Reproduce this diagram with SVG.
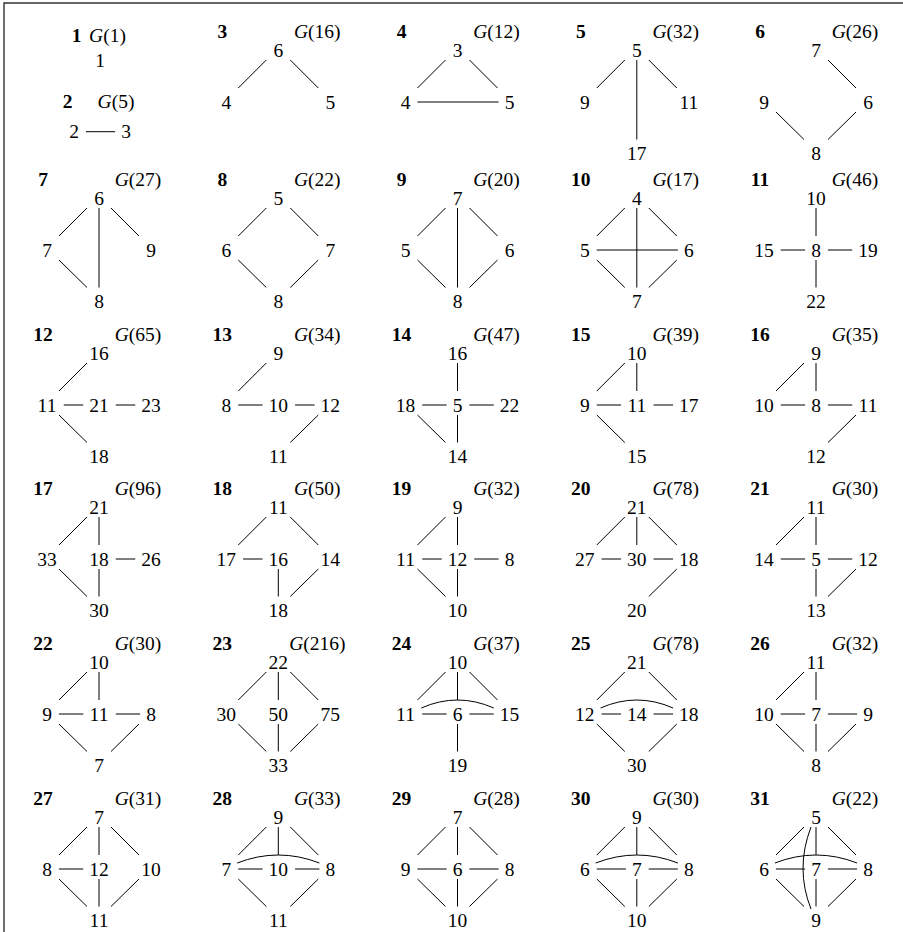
<svg xmlns="http://www.w3.org/2000/svg" width="903" height="932" viewBox="0 0 903 932">
<style>
text{font-family:"Liberation Serif","Times New Roman",serif;font-size:19.5px;text-anchor:middle;fill:#000}
.b{font-weight:bold}
.i{font-style:italic}
line,path{stroke:#000;stroke-width:1;fill:none}
.frame{stroke:#333;stroke-width:1.4}
</style>
<rect width="903" height="932" fill="#fff"/>
<g id="frame"><path class="frame" d="M4,932 V3 H903"/></g>

<g id="cell1-2">
<text class="b" x="76.5" y="41.6">1</text>
<text x="107.5" y="41.6"><tspan class="i">G</tspan>(1)</text>
<g id="g1-1"><text x="100" y="66.6">1</text></g>
<text class="b" x="67.5" y="108.3">2</text>
<text x="116" y="108.3"><tspan class="i">G</tspan>(5)</text>
<g class="edges"><line x1="85.9" y1="131.7" x2="115.1" y2="131.7"/></g>
<g id="g2-2"><text x="74" y="138.3">2</text></g>
<g id="g2-3"><text x="126" y="138.3">3</text></g>
</g>

<g id="graph3" transform="translate(278.3,50)">
<text class="b" x="-56" y="-12.4">3</text><text x="39" y="-12.4"><tspan class="i">G</tspan>(16)</text>
<g class="edges"><line x1="-12" y1="10" x2="-40" y2="38"/><line x1="12" y1="10" x2="40" y2="38"/></g>
<g id="g3-6"><text x="0" y="6.6">6</text></g><g id="g3-4"><text x="-52" y="58.6">4</text></g><g id="g3-5"><text x="52" y="58.6">5</text></g>
</g>

<g id="graph4" transform="translate(457.5,50)">
<text class="b" x="-56" y="-12.4">4</text><text x="39" y="-12.4"><tspan class="i">G</tspan>(12)</text>
<g class="edges"><line x1="-12" y1="10" x2="-40" y2="38"/><line x1="12" y1="10" x2="40" y2="38"/><line x1="-40.1" y1="52" x2="41.1" y2="52"/></g>
<g id="g4-3"><text x="0" y="6.6">3</text></g><g id="g4-4"><text x="-52" y="58.6">4</text></g><g id="g4-5"><text x="52" y="58.6">5</text></g>
</g>

<g id="graph5" transform="translate(636.8,50)">
<text class="b" x="-56" y="-12.4">5</text><text x="39" y="-12.4"><tspan class="i">G</tspan>(32)</text>
<g class="edges"><line x1="-12" y1="10" x2="-40" y2="38"/><line x1="12" y1="10" x2="40" y2="38"/><line x1="0" y1="10" x2="0" y2="89.5"/></g>
<g id="g5-5"><text x="0" y="6.6">5</text></g><g id="g5-9"><text x="-52" y="58.6">9</text></g><g id="g5-11"><text x="52" y="58.6">11</text></g><g id="g5-17"><text x="0" y="110.1">17</text></g>
</g>

<g id="graph6" transform="translate(816,50)">
<text class="b" x="-56" y="-12.4">6</text><text x="39" y="-12.4"><tspan class="i">G</tspan>(26)</text>
<g class="edges"><line x1="12" y1="10" x2="40" y2="38"/><line x1="-40" y1="62" x2="-12" y2="89.5"/><line x1="40" y1="62" x2="12" y2="89.5"/></g>
<g id="g6-7"><text x="0" y="6.6">7</text></g><g id="g6-9"><text x="-52" y="58.6">9</text></g><g id="g6-6"><text x="52" y="58.6">6</text></g><g id="g6-8"><text x="0" y="110.1">8</text></g>
</g>

<g id="graph7" transform="translate(99,198)">
<text class="b" x="-56" y="-12.4">7</text><text x="39" y="-12.4"><tspan class="i">G</tspan>(27)</text>
<g class="edges"><line x1="-12" y1="10" x2="-40" y2="38"/><line x1="12" y1="10" x2="40" y2="38"/><line x1="0" y1="10" x2="0" y2="89.5"/><line x1="-40" y1="62" x2="-12" y2="89.5"/></g>
<g id="g7-6"><text x="0" y="6.6">6</text></g><g id="g7-7"><text x="-52" y="58.6">7</text></g><g id="g7-9"><text x="52" y="58.6">9</text></g><g id="g7-8"><text x="0" y="110.1">8</text></g>
</g>

<g id="graph8" transform="translate(278.3,198)">
<text class="b" x="-56" y="-12.4">8</text><text x="39" y="-12.4"><tspan class="i">G</tspan>(22)</text>
<g class="edges"><line x1="-12" y1="10" x2="-40" y2="38"/><line x1="12" y1="10" x2="40" y2="38"/><line x1="-40" y1="62" x2="-12" y2="89.5"/><line x1="40" y1="62" x2="12" y2="89.5"/></g>
<g id="g8-5"><text x="0" y="6.6">5</text></g><g id="g8-6"><text x="-52" y="58.6">6</text></g><g id="g8-7"><text x="52" y="58.6">7</text></g><g id="g8-8"><text x="0" y="110.1">8</text></g>
</g>

<g id="graph9" transform="translate(457.5,198)">
<text class="b" x="-56" y="-12.4">9</text><text x="39" y="-12.4"><tspan class="i">G</tspan>(20)</text>
<g class="edges"><line x1="-12" y1="10" x2="-40" y2="38"/><line x1="12" y1="10" x2="40" y2="38"/><line x1="-40" y1="62" x2="-12" y2="89.5"/><line x1="40" y1="62" x2="12" y2="89.5"/><line x1="0" y1="10" x2="0" y2="89.5"/></g>
<g id="g9-7"><text x="0" y="6.6">7</text></g><g id="g9-5"><text x="-52" y="58.6">5</text></g><g id="g9-6"><text x="52" y="58.6">6</text></g><g id="g9-8"><text x="0" y="110.1">8</text></g>
</g>

<g id="graph10" transform="translate(636.8,198)">
<text class="b" x="-56" y="-12.4">10</text><text x="39" y="-12.4"><tspan class="i">G</tspan>(17)</text>
<g class="edges"><line x1="-12" y1="10" x2="-40" y2="38"/><line x1="12" y1="10" x2="40" y2="38"/><line x1="-40" y1="62" x2="-12" y2="89.5"/><line x1="40" y1="62" x2="12" y2="89.5"/><line x1="0" y1="10" x2="0" y2="89.5"/><line x1="-40.1" y1="52" x2="41.1" y2="52"/></g>
<g id="g10-4"><text x="0" y="6.6">4</text></g><g id="g10-5"><text x="-52" y="58.6">5</text></g><g id="g10-6"><text x="52" y="58.6">6</text></g><g id="g10-7"><text x="0" y="110.1">7</text></g>
</g>

<g id="graph11" transform="translate(816,198)">
<text class="b" x="-56" y="-12.4">11</text><text x="39" y="-12.4"><tspan class="i">G</tspan>(46)</text>
<g class="edges"><line x1="0" y1="10" x2="0" y2="38"/><line x1="-35.25" y1="52" x2="-10.9" y2="52"/><line x1="11.9" y1="52" x2="36.25" y2="52"/><line x1="0" y1="62" x2="0" y2="89.5"/></g>
<g id="g11-10"><text x="0" y="6.6">10</text></g><g id="g11-15"><text x="-52" y="58.6">15</text></g><g id="g11-8"><text x="0" y="58.6">8</text></g><g id="g11-19"><text x="52" y="58.6">19</text></g><g id="g11-22"><text x="0" y="110.1">22</text></g>
</g>

<g id="graph12" transform="translate(99,353)">
<text class="b" x="-56" y="-12.4">12</text><text x="39" y="-12.4"><tspan class="i">G</tspan>(65)</text>
<g class="edges"><line x1="-12" y1="10" x2="-40" y2="38"/><line x1="-35.25" y1="52" x2="-15.75" y2="52"/><line x1="16.75" y1="52" x2="36.25" y2="52"/><line x1="-40" y1="62" x2="-12" y2="89.5"/></g>
<g id="g12-16"><text x="0" y="6.6">16</text></g><g id="g12-11"><text x="-52" y="58.6">11</text></g><g id="g12-21"><text x="0" y="58.6">21</text></g><g id="g12-23"><text x="52" y="58.6">23</text></g><g id="g12-18"><text x="0" y="110.1">18</text></g>
</g>

<g id="graph13" transform="translate(278.3,353)">
<text class="b" x="-56" y="-12.4">13</text><text x="39" y="-12.4"><tspan class="i">G</tspan>(34)</text>
<g class="edges"><line x1="-12" y1="10" x2="-40" y2="38"/><line x1="-40.1" y1="52" x2="-15.75" y2="52"/><line x1="16.75" y1="52" x2="36.25" y2="52"/><line x1="40" y1="62" x2="12" y2="89.5"/></g>
<g id="g13-9"><text x="0" y="6.6">9</text></g><g id="g13-8"><text x="-52" y="58.6">8</text></g><g id="g13-10"><text x="0" y="58.6">10</text></g><g id="g13-12"><text x="52" y="58.6">12</text></g><g id="g13-11"><text x="0" y="110.1">11</text></g>
</g>

<g id="graph14" transform="translate(457.5,353)">
<text class="b" x="-56" y="-12.4">14</text><text x="39" y="-12.4"><tspan class="i">G</tspan>(47)</text>
<g class="edges"><line x1="0" y1="10" x2="0" y2="38"/><line x1="-35.25" y1="52" x2="-10.9" y2="52"/><line x1="11.9" y1="52" x2="36.25" y2="52"/><line x1="-40" y1="62" x2="-12" y2="89.5"/><line x1="0" y1="62" x2="0" y2="89.5"/></g>
<g id="g14-16"><text x="0" y="6.6">16</text></g><g id="g14-18"><text x="-52" y="58.6">18</text></g><g id="g14-5"><text x="0" y="58.6">5</text></g><g id="g14-22"><text x="52" y="58.6">22</text></g><g id="g14-14"><text x="0" y="110.1">14</text></g>
</g>

<g id="graph15" transform="translate(636.8,353)">
<text class="b" x="-56" y="-12.4">15</text><text x="39" y="-12.4"><tspan class="i">G</tspan>(39)</text>
<g class="edges"><line x1="-12" y1="10" x2="-40" y2="38"/><line x1="0" y1="10" x2="0" y2="38"/><line x1="-40.1" y1="52" x2="-15.75" y2="52"/><line x1="16.75" y1="52" x2="36.25" y2="52"/><line x1="-40" y1="62" x2="-12" y2="89.5"/></g>
<g id="g15-10"><text x="0" y="6.6">10</text></g><g id="g15-9"><text x="-52" y="58.6">9</text></g><g id="g15-11"><text x="0" y="58.6">11</text></g><g id="g15-17"><text x="52" y="58.6">17</text></g><g id="g15-15"><text x="0" y="110.1">15</text></g>
</g>

<g id="graph16" transform="translate(816,353)">
<text class="b" x="-56" y="-12.4">16</text><text x="39" y="-12.4"><tspan class="i">G</tspan>(35)</text>
<g class="edges"><line x1="-12" y1="10" x2="-40" y2="38"/><line x1="0" y1="10" x2="0" y2="38"/><line x1="-35.25" y1="52" x2="-10.9" y2="52"/><line x1="11.9" y1="52" x2="36.25" y2="52"/><line x1="40" y1="62" x2="12" y2="89.5"/></g>
<g id="g16-9"><text x="0" y="6.6">9</text></g><g id="g16-10"><text x="-52" y="58.6">10</text></g><g id="g16-8"><text x="0" y="58.6">8</text></g><g id="g16-11"><text x="52" y="58.6">11</text></g><g id="g16-12"><text x="0" y="110.1">12</text></g>
</g>

<g id="graph17" transform="translate(99,507)">
<text class="b" x="-56" y="-12.4">17</text><text x="39" y="-12.4"><tspan class="i">G</tspan>(96)</text>
<g class="edges"><line x1="-12" y1="10" x2="-40" y2="38"/><line x1="0" y1="10" x2="0" y2="38"/><line x1="16.75" y1="52" x2="36.25" y2="52"/><line x1="-40" y1="62" x2="-12" y2="89.5"/><line x1="0" y1="62" x2="0" y2="89.5"/></g>
<g id="g17-21"><text x="0" y="6.6">21</text></g><g id="g17-33"><text x="-52" y="58.6">33</text></g><g id="g17-18"><text x="0" y="58.6">18</text></g><g id="g17-26"><text x="52" y="58.6">26</text></g><g id="g17-30"><text x="0" y="110.1">30</text></g>
</g>

<g id="graph18" transform="translate(278.3,507)">
<text class="b" x="-56" y="-12.4">18</text><text x="39" y="-12.4"><tspan class="i">G</tspan>(50)</text>
<g class="edges"><line x1="-12" y1="10" x2="-40" y2="38"/><line x1="12" y1="10" x2="40" y2="38"/><line x1="-35.25" y1="52" x2="-15.75" y2="52"/><line x1="0" y1="62" x2="0" y2="89.5"/><line x1="40" y1="62" x2="12" y2="89.5"/></g>
<g id="g18-11"><text x="0" y="6.6">11</text></g><g id="g18-17"><text x="-52" y="58.6">17</text></g><g id="g18-16"><text x="0" y="58.6">16</text></g><g id="g18-14"><text x="52" y="58.6">14</text></g><g id="g18-18"><text x="0" y="110.1">18</text></g>
</g>

<g id="graph19" transform="translate(457.5,507)">
<text class="b" x="-56" y="-12.4">19</text><text x="39" y="-12.4"><tspan class="i">G</tspan>(32)</text>
<g class="edges"><line x1="-12" y1="10" x2="-40" y2="38"/><line x1="0" y1="10" x2="0" y2="38"/><line x1="-35.25" y1="52" x2="-15.75" y2="52"/><line x1="16.75" y1="52" x2="41.1" y2="52"/><line x1="-40" y1="62" x2="-12" y2="89.5"/><line x1="0" y1="62" x2="0" y2="89.5"/></g>
<g id="g19-9"><text x="0" y="6.6">9</text></g><g id="g19-11"><text x="-52" y="58.6">11</text></g><g id="g19-12"><text x="0" y="58.6">12</text></g><g id="g19-8"><text x="52" y="58.6">8</text></g><g id="g19-10"><text x="0" y="110.1">10</text></g>
</g>

<g id="graph20" transform="translate(636.8,507)">
<text class="b" x="-56" y="-12.4">20</text><text x="39" y="-12.4"><tspan class="i">G</tspan>(78)</text>
<g class="edges"><line x1="-12" y1="10" x2="-40" y2="38"/><line x1="0" y1="10" x2="0" y2="38"/><line x1="12" y1="10" x2="40" y2="38"/><line x1="-35.25" y1="52" x2="-15.75" y2="52"/><line x1="16.75" y1="52" x2="36.25" y2="52"/><line x1="40" y1="62" x2="12" y2="89.5"/></g>
<g id="g20-21"><text x="0" y="6.6">21</text></g><g id="g20-27"><text x="-52" y="58.6">27</text></g><g id="g20-30"><text x="0" y="58.6">30</text></g><g id="g20-18"><text x="52" y="58.6">18</text></g><g id="g20-20"><text x="0" y="110.1">20</text></g>
</g>

<g id="graph21" transform="translate(816,507)">
<text class="b" x="-56" y="-12.4">21</text><text x="39" y="-12.4"><tspan class="i">G</tspan>(30)</text>
<g class="edges"><line x1="-12" y1="10" x2="-40" y2="38"/><line x1="0" y1="10" x2="0" y2="38"/><line x1="-35.25" y1="52" x2="-10.9" y2="52"/><line x1="11.9" y1="52" x2="36.25" y2="52"/><line x1="0" y1="62" x2="0" y2="89.5"/><line x1="40" y1="62" x2="12" y2="89.5"/></g>
<g id="g21-11"><text x="0" y="6.6">11</text></g><g id="g21-14"><text x="-52" y="58.6">14</text></g><g id="g21-5"><text x="0" y="58.6">5</text></g><g id="g21-12"><text x="52" y="58.6">12</text></g><g id="g21-13"><text x="0" y="110.1">13</text></g>
</g>

<g id="graph22" transform="translate(99,662)">
<text class="b" x="-56" y="-12.4">22</text><text x="39" y="-12.4"><tspan class="i">G</tspan>(30)</text>
<g class="edges"><line x1="-12" y1="10" x2="-40" y2="38"/><line x1="0" y1="10" x2="0" y2="38"/><line x1="-40.1" y1="52" x2="-15.75" y2="52"/><line x1="16.75" y1="52" x2="41.1" y2="52"/><line x1="-40" y1="62" x2="-12" y2="89.5"/><line x1="40" y1="62" x2="12" y2="89.5"/></g>
<g id="g22-10"><text x="0" y="6.6">10</text></g><g id="g22-9"><text x="-52" y="58.6">9</text></g><g id="g22-11"><text x="0" y="58.6">11</text></g><g id="g22-8"><text x="52" y="58.6">8</text></g><g id="g22-7"><text x="0" y="110.1">7</text></g>
</g>

<g id="graph23" transform="translate(278.3,662)">
<text class="b" x="-56" y="-12.4">23</text><text x="39" y="-12.4"><tspan class="i">G</tspan>(216)</text>
<g class="edges"><line x1="-12" y1="10" x2="-40" y2="38"/><line x1="0" y1="10" x2="0" y2="38"/><line x1="12" y1="10" x2="40" y2="38"/><line x1="-40" y1="62" x2="-12" y2="89.5"/><line x1="0" y1="62" x2="0" y2="89.5"/><line x1="40" y1="62" x2="12" y2="89.5"/></g>
<g id="g23-22"><text x="0" y="6.6">22</text></g><g id="g23-30"><text x="-52" y="58.6">30</text></g><g id="g23-50"><text x="0" y="58.6">50</text></g><g id="g23-75"><text x="52" y="58.6">75</text></g><g id="g23-33"><text x="0" y="110.1">33</text></g>
</g>

<g id="graph24" transform="translate(457.5,662)">
<text class="b" x="-56" y="-12.4">24</text><text x="39" y="-12.4"><tspan class="i">G</tspan>(37)</text>
<g class="edges"><line x1="-12" y1="10" x2="-40" y2="38"/><line x1="0" y1="10" x2="0" y2="38"/><line x1="12" y1="10" x2="40" y2="38"/><path d="M-36.25,46 Q0,30 36.25,46"/><line x1="-35.25" y1="52" x2="-10.9" y2="52"/><line x1="11.9" y1="52" x2="36.25" y2="52"/><line x1="0" y1="62" x2="0" y2="89.5"/></g>
<g id="g24-10"><text x="0" y="6.6">10</text></g><g id="g24-11"><text x="-52" y="58.6">11</text></g><g id="g24-6"><text x="0" y="58.6">6</text></g><g id="g24-15"><text x="52" y="58.6">15</text></g><g id="g24-19"><text x="0" y="110.1">19</text></g>
</g>

<g id="graph25" transform="translate(636.8,662)">
<text class="b" x="-56" y="-12.4">25</text><text x="39" y="-12.4"><tspan class="i">G</tspan>(78)</text>
<g class="edges"><line x1="-12" y1="10" x2="-40" y2="38"/><line x1="12" y1="10" x2="40" y2="38"/><path d="M-36.25,46 Q0,30 36.25,46"/><line x1="-35.25" y1="52" x2="-15.75" y2="52"/><line x1="16.75" y1="52" x2="36.25" y2="52"/><line x1="-40" y1="62" x2="-12" y2="89.5"/><line x1="40" y1="62" x2="12" y2="89.5"/></g>
<g id="g25-21"><text x="0" y="6.6">21</text></g><g id="g25-12"><text x="-52" y="58.6">12</text></g><g id="g25-14"><text x="0" y="58.6">14</text></g><g id="g25-18"><text x="52" y="58.6">18</text></g><g id="g25-30"><text x="0" y="110.1">30</text></g>
</g>

<g id="graph26" transform="translate(816,662)">
<text class="b" x="-56" y="-12.4">26</text><text x="39" y="-12.4"><tspan class="i">G</tspan>(32)</text>
<g class="edges"><line x1="-12" y1="10" x2="-40" y2="38"/><line x1="0" y1="10" x2="0" y2="38"/><line x1="-35.25" y1="52" x2="-10.9" y2="52"/><line x1="11.9" y1="52" x2="41.1" y2="52"/><line x1="-40" y1="62" x2="-12" y2="89.5"/><line x1="0" y1="62" x2="0" y2="89.5"/><line x1="40" y1="62" x2="12" y2="89.5"/></g>
<g id="g26-11"><text x="0" y="6.6">11</text></g><g id="g26-10"><text x="-52" y="58.6">10</text></g><g id="g26-7"><text x="0" y="58.6">7</text></g><g id="g26-9"><text x="52" y="58.6">9</text></g><g id="g26-8"><text x="0" y="110.1">8</text></g>
</g>

<g id="graph27" transform="translate(99,817)">
<text class="b" x="-56" y="-12.4">27</text><text x="39" y="-12.4"><tspan class="i">G</tspan>(31)</text>
<g class="edges"><line x1="-12" y1="10" x2="-40" y2="38"/><line x1="0" y1="10" x2="0" y2="38"/><line x1="12" y1="10" x2="40" y2="38"/><line x1="-40.1" y1="52" x2="-15.75" y2="52"/><line x1="-40" y1="62" x2="-12" y2="89.5"/><line x1="0" y1="62" x2="0" y2="89.5"/><line x1="40" y1="62" x2="12" y2="89.5"/></g>
<g id="g27-7"><text x="0" y="6.6">7</text></g><g id="g27-8"><text x="-52" y="58.6">8</text></g><g id="g27-12"><text x="0" y="58.6">12</text></g><g id="g27-10"><text x="52" y="58.6">10</text></g><g id="g27-11"><text x="0" y="110.1">11</text></g>
</g>

<g id="graph28" transform="translate(278.3,817)">
<text class="b" x="-56" y="-12.4">28</text><text x="39" y="-12.4"><tspan class="i">G</tspan>(33)</text>
<g class="edges"><line x1="-12" y1="10" x2="-40" y2="38"/><line x1="0" y1="10" x2="0" y2="38"/><line x1="12" y1="10" x2="40" y2="38"/><path d="M-41.1,46 Q0,30 41.1,46"/><line x1="-40.1" y1="52" x2="-15.75" y2="52"/><line x1="16.75" y1="52" x2="41.1" y2="52"/><line x1="-40" y1="62" x2="-12" y2="89.5"/><line x1="40" y1="62" x2="12" y2="89.5"/></g>
<g id="g28-9"><text x="0" y="6.6">9</text></g><g id="g28-7"><text x="-52" y="58.6">7</text></g><g id="g28-10"><text x="0" y="58.6">10</text></g><g id="g28-8"><text x="52" y="58.6">8</text></g><g id="g28-11"><text x="0" y="110.1">11</text></g>
</g>

<g id="graph29" transform="translate(457.5,817)">
<text class="b" x="-56" y="-12.4">29</text><text x="39" y="-12.4"><tspan class="i">G</tspan>(28)</text>
<g class="edges"><line x1="-12" y1="10" x2="-40" y2="38"/><line x1="0" y1="10" x2="0" y2="38"/><line x1="12" y1="10" x2="40" y2="38"/><line x1="-40.1" y1="52" x2="-10.9" y2="52"/><line x1="11.9" y1="52" x2="41.1" y2="52"/><line x1="-40" y1="62" x2="-12" y2="89.5"/><line x1="0" y1="62" x2="0" y2="89.5"/><line x1="40" y1="62" x2="12" y2="89.5"/></g>
<g id="g29-7"><text x="0" y="6.6">7</text></g><g id="g29-9"><text x="-52" y="58.6">9</text></g><g id="g29-6"><text x="0" y="58.6">6</text></g><g id="g29-8"><text x="52" y="58.6">8</text></g><g id="g29-10"><text x="0" y="110.1">10</text></g>
</g>

<g id="graph30" transform="translate(636.8,817)">
<text class="b" x="-56" y="-12.4">30</text><text x="39" y="-12.4"><tspan class="i">G</tspan>(30)</text>
<g class="edges"><line x1="-12" y1="10" x2="-40" y2="38"/><line x1="0" y1="10" x2="0" y2="38"/><line x1="12" y1="10" x2="40" y2="38"/><path d="M-41.1,46 Q0,30 41.1,46"/><line x1="-40.1" y1="52" x2="-10.9" y2="52"/><line x1="11.9" y1="52" x2="41.1" y2="52"/><line x1="-40" y1="62" x2="-12" y2="89.5"/><line x1="0" y1="62" x2="0" y2="89.5"/><line x1="40" y1="62" x2="12" y2="89.5"/></g>
<g id="g30-9"><text x="0" y="6.6">9</text></g><g id="g30-6"><text x="-52" y="58.6">6</text></g><g id="g30-7"><text x="0" y="58.6">7</text></g><g id="g30-8"><text x="52" y="58.6">8</text></g><g id="g30-10"><text x="0" y="110.1">10</text></g>
</g>

<g id="graph31" transform="translate(816,817)">
<text class="b" x="-56" y="-12.4">31</text><text x="39" y="-12.4"><tspan class="i">G</tspan>(22)</text>
<g class="edges"><line x1="-12" y1="10" x2="-40" y2="38"/><line x1="0" y1="10" x2="0" y2="38"/><line x1="12" y1="10" x2="40" y2="38"/><path d="M-41.1,46 Q0,30 41.1,46"/><path d="M-5,10 Q-21,51.75 -5,92"/><line x1="-40.1" y1="52" x2="-10.9" y2="52"/><line x1="11.9" y1="52" x2="41.1" y2="52"/><line x1="-40" y1="62" x2="-12" y2="89.5"/><line x1="0" y1="62" x2="0" y2="89.5"/><line x1="40" y1="62" x2="12" y2="89.5"/></g>
<g id="g31-5"><text x="0" y="6.6">5</text></g><g id="g31-6"><text x="-52" y="58.6">6</text></g><g id="g31-7"><text x="0" y="58.6">7</text></g><g id="g31-8"><text x="52" y="58.6">8</text></g><g id="g31-9"><text x="0" y="110.1">9</text></g>
</g>
</svg>
